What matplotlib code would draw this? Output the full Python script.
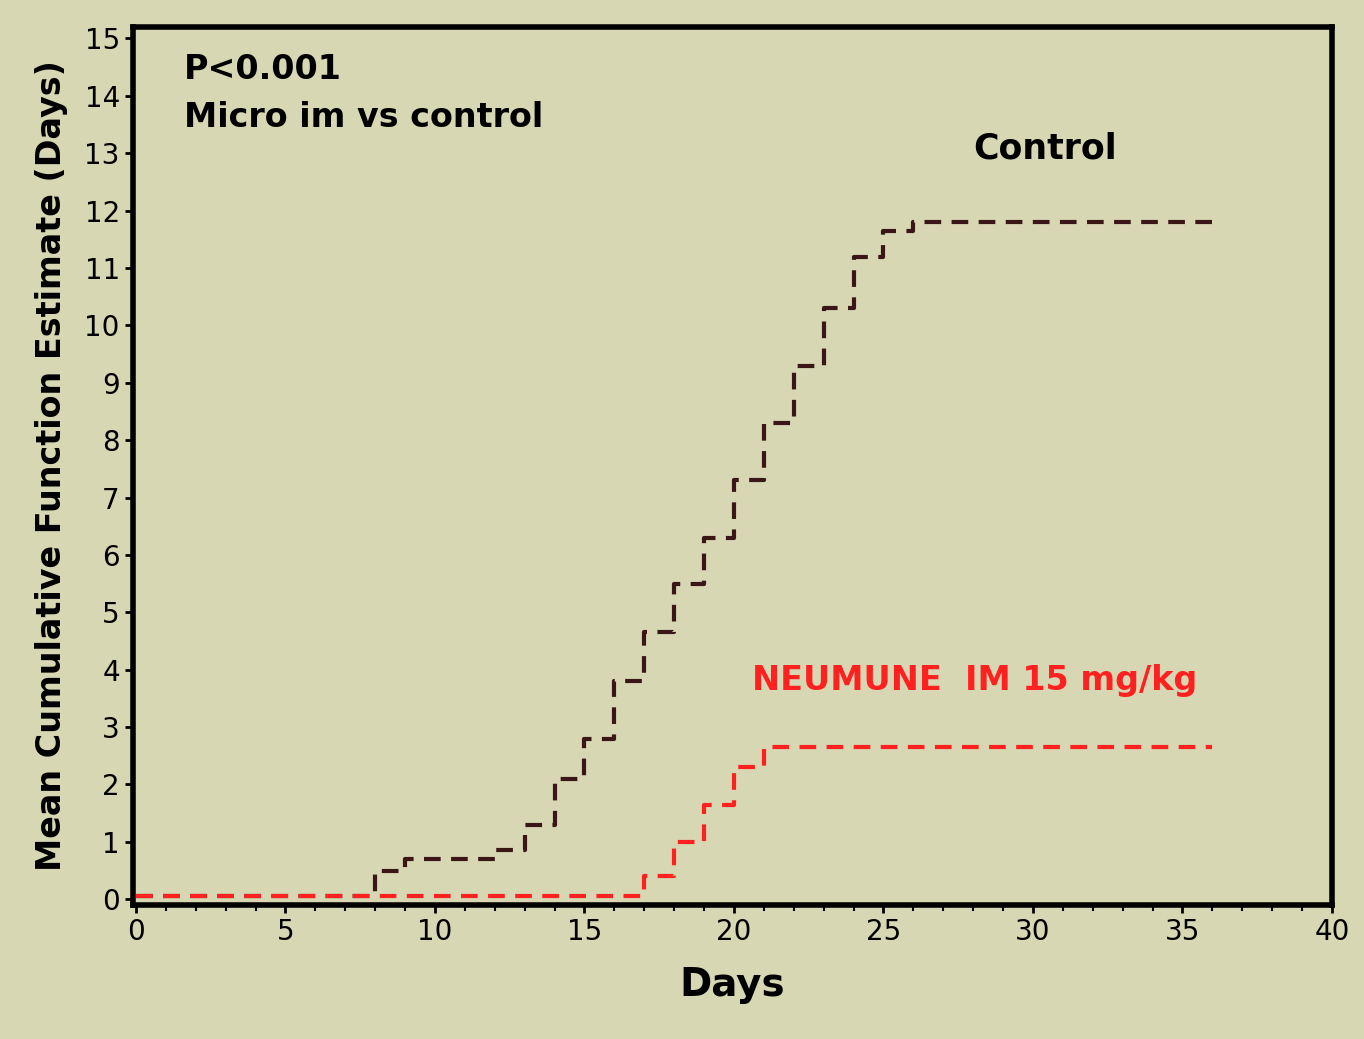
import matplotlib
matplotlib.use("Agg")
import matplotlib.pyplot as plt

ctrl_days = [0, 8, 9, 12, 13, 14, 15, 16, 17, 18, 19, 20, 21, 22, 23, 24, 25, 26, 36]
ctrl_vals = [0.05, 0.5, 0.7, 0.85, 1.3, 2.1, 2.8, 3.8, 4.65, 5.5, 6.3, 7.3, 8.3, 9.3, 10.3, 11.2, 11.65, 11.8, 11.8]
neu_days = [0, 17, 18, 19, 20, 21, 36]
neu_vals = [0.05, 0.4, 1.0, 1.65, 2.3, 2.65, 2.65]

bg = "#d7d7b3"
fig = plt.figure(figsize=(13.64, 10.39), dpi=100, facecolor=bg)
ax = fig.add_axes([133/1364, 1-905/1039, (1332-133)/1364, (905-27)/1039])
ax.set_facecolor(bg)
ax.step(ctrl_days, ctrl_vals, where="post", color="#3a1616", lw=3, dashes=(4, 2.5))
ax.step(neu_days, neu_vals, where="post", color="#ff2020", lw=3, dashes=(4, 2.5))
ax.set_xlim(-0.1, 40)
ax.set_ylim(-0.1, 15.2)
ax.set_xticks(range(0, 41, 5))
ax.set_xticks(range(0, 41), minor=True)
ax.set_yticks(range(0, 16))
for s in ax.spines.values():
    s.set_linewidth(4)
ax.tick_params(labelsize=20, width=2, length=6)
ax.tick_params(which="minor", width=1.5, length=4)
ax.set_xlabel("Days", fontsize=28, fontweight="bold", labelpad=14)
ax.set_ylabel("Mean Cumulative Function Estimate (Days)", fontsize=24, fontweight="bold", labelpad=12)
ax.text(1.6, 14.3, "P<0.001", fontsize=24, fontweight="bold")
ax.text(1.6, 13.45, "Micro im vs control", fontsize=24, fontweight="bold")
ax.text(28.0, 12.9, "Control", fontsize=25, fontweight="bold")
ax.text(20.6, 3.65, "NEUMUNE  IM 15 mg/kg", fontsize=24, fontweight="bold", color="#ff2020")
fig.savefig("out.png", dpi=100, facecolor=bg)
